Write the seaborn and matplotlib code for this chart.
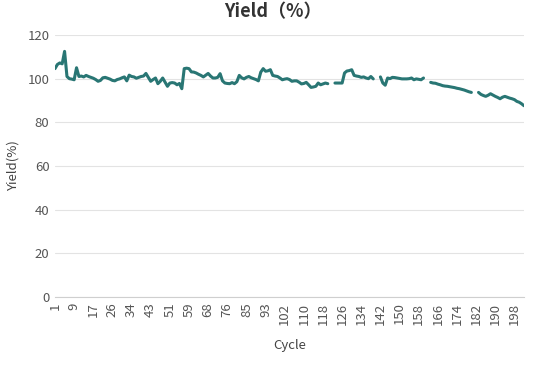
import numpy as np
import pandas as pd
import matplotlib
matplotlib.use("Agg")
import matplotlib.pyplot as plt
import seaborn as sns

# cycle numbers on the category axis (a few cycle numbers are not present)
skipped_cycles = [22, 39, 64, 81, 98]
cycles = [c for c in range(1, 203) if c not in skipped_cycles]

# yield per cycle, nan = no value (gap in the line)
nan = np.nan
yield_pct = [
    104.6, 106.5, 107.2, 106.8, 112.5, 101.0, 100.0, 99.8, 99.5, 105.0,
    101.0, 101.2, 100.8, 101.5, 101.0, 100.6, 100.2, 99.6, 98.8, 99.2,
    100.4, 100.6, 100.2, 99.8, 99.2, 99.0, 99.6, 99.9, 100.4, 100.8,
    99.0, 101.6, 101.0, 100.8, 100.2, 100.6, 101.0, 101.2, 102.4, 100.6,
    98.8, 99.6, 100.3, 97.7, 98.8, 100.3, 98.4, 96.5, 98.0, 98.2,
    98.0, 97.2, 97.8, 95.4, 104.6, 104.8, 104.6, 103.1, 103.0, 102.6,
    102.0, 101.5, 100.8, 101.6, 102.4, 101.2, 100.3, 100.3, 100.6, 102.3,
    99.0, 98.0, 97.8, 97.7, 98.2, 97.7, 98.6, 101.5, 100.4, 99.9,
    100.6, 101.0, 100.4, 100.0, 99.6, 99.0, 103.0, 104.6, 103.4, 103.6,
    104.1, 101.5, 101.2, 101.0, 100.3, 99.5, 99.8, 100.0, 99.6, 98.8,
    99.0, 99.0, 98.4, 97.6, 97.8, 98.3, 97.2, 96.0, 96.2, 96.5,
    98.0, 97.2, 97.6, 98.0, 97.7, nan, nan, 98.0, 98.0, 98.0,
    98.0, 102.6, 103.5, 103.7, 104.1, 101.5, 101.2, 101.0, 100.6, 100.8,
    100.3, 100.0, 101.0, 99.9, nan, nan, 100.8, 98.0, 97.0, 100.3,
    100.0, 100.6, 100.5, 100.3, 100.1, 99.9, 99.9, 99.9, 100.0, 100.3,
    99.5, 99.9, 99.7, 99.5, 100.3, nan, nan, 98.3, 98.0, 97.9,
    97.5, 97.2, 96.8, 96.6, 96.5, 96.3, 96.1, 95.9, 95.6, 95.4,
    95.1, 94.8, 94.4, 94.0, 93.7, nan, nan, 93.7, 92.8, 92.3,
    91.9, 92.4, 93.1, 92.5, 91.9, 91.4, 90.8, 91.5, 91.9, 91.5,
    91.1, 90.8, 90.4, 89.6, 89.2, 88.5, 87.6,
]

df = pd.DataFrame({"pos": np.arange(len(yield_pct)), "cycle": cycles[:len(yield_pct)],
                   "yield": yield_pct})
# separate runs between missing values so the line breaks there
df["seg"] = df["yield"].isna().cumsum()
df = df.dropna()

sns.set_style("white")
plt.rcParams["font.family"] = ["Noto Sans CJK SC", "DejaVu Sans"]

fig = plt.figure(figsize=(5.46, 3.67), dpi=100)
ax = fig.add_axes([55 / 546, 1 - 297 / 367, (524 - 55) / 546, (297 - 35) / 367])

sns.lineplot(data=df, x="pos", y="yield", units="seg", estimator=None,
             color="#297674", linewidth=2.2, ax=ax, solid_joinstyle="round",
             solid_capstyle="round")

ax.set_xlim(0, len(yield_pct) - 1)
ax.set_ylim(0, 120)
ax.set_yticks(range(0, 121, 20))
tick_pos = list(range(0, len(yield_pct), 8))
ax.set_xticks(tick_pos)
ax.set_xticklabels([str(cycles[i]) for i in tick_pos], rotation=90)

ax.grid(axis="y", color="#e3e3e3", linewidth=0.8)
ax.grid(axis="x", visible=False)
for s in ["top", "right", "left"]:
    ax.spines[s].set_visible(False)
ax.spines["bottom"].set_color("#cfcfcf")
ax.tick_params(axis="both", length=0, labelsize=9.5, colors="#555555", pad=4)

ax.set_xlabel("Cycle", fontsize=9.5, color="#444444", labelpad=10)
ax.set_ylabel("Yield(%)", fontsize=9.5, color="#444444", labelpad=6)
fig.text(0.5, 1 - 12 / 367, "Yield（%）", ha="center", va="center",
         fontsize=13, fontweight="bold", color="#333333")

fig.savefig("out.png", dpi=100)
